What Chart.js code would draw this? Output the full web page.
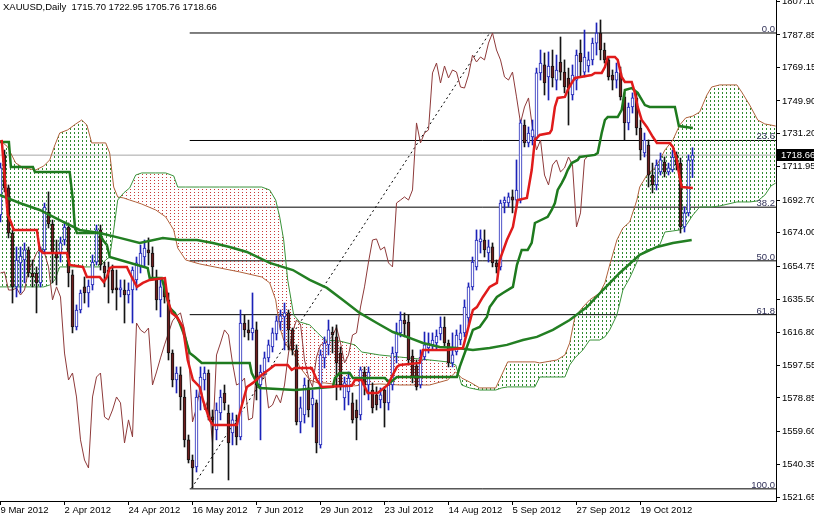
<!DOCTYPE html>
<html lang="en">
<head>
  <meta charset="UTF-8">
  <title>XAUUSD Daily</title>
  <style>
    body {
      margin: 0;
      background: #fff;
    }
    .wrap {
      position: relative;
      width: 814px;
      height: 518px;
    }
  </style>
</head>
<body>
  <div class="wrap"><canvas id="chart"></canvas></div>

  <script src="https://cdn.jsdelivr.net/npm/chart.js"></script>
  <script>
    // Axis labels
    const dateLabels = ['9 Mar 2012', '2 Apr 2012', '24 Apr 2012', '16 May 2012', '7 Jun 2012', '29 Jun 2012',
      '23 Jul 2012', '14 Aug 2012', '5 Sep 2012', '27 Sep 2012', '19 Oct 2012'];
    const dateTickBars = [0, 16, 32, 48, 64, 80, 96, 112, 128, 144, 160];
    const priceTicks = [1807.10, 1787.85, 1769.15, 1749.90, 1731.20, 1711.95, 1692.70, 1674.00, 1654.75,
      1635.50, 1616.80, 1597.55, 1578.85, 1559.60, 1540.35, 1521.65];

    // Daily candles, one per bar (bar 0 = 9 Mar 2012)
    const opens = [
      1684.2,1718.8,1699.8,1673.8,1642.8,1656.6,1658.3,1664.1,1650.8,1650.8,
      1645.1,1664.1,1685.9,1679.0,1662.9,1662.3,1669.8,1677.3,1649.7,1619.7,
      1629.5,1642.8,1639.3,1643.9,1657.1,1675.6,1654.8,1652.5,1652.5,1642.2,
      1641.0,1641.0,1638.1,1641.0,1646.8,1654.3,1660.0,1664.1,1662.3,1646.8,
      1635.3,1642.8,1635.3,1604.7,1589.2,1592.1,1579.4,1554.7,1543.1,1539.1,
      1579.4,1589.2,1593.2,1567.9,1560.4,1570.2,1581.7,1570.2,1558.7,1564.4,
      1556.4,1622.0,1618.0,1616.3,1618.0,1586.3,1593.8,1601.9,1608.2,1615.7,
      1622.6,1625.5,1627.8,1618.0,1606.5,1565.0,1569.0,1584.6,1574.8,1576.0,
      1551.8,1601.9,1609.4,1616.8,1614.0,1604.7,1578.8,1582.3,1576.0,1571.9,
      1569.0,1593.8,1586.3,1583.4,1580.6,1577.7,1583.4,1576.0,1586.3,1604.7,
      1616.3,1623.7,1622.6,1603.0,1597.3,1586.3,1602.4,1607.6,1609.4,1610.5,
      1615.7,1619.7,1610.5,1599.0,1605.3,1612.2,1616.3,1624.9,1642.8,1654.3,
      1668.7,1669.8,1662.3,1665.8,1656.6,1654.3,1691.1,1691.1,1694.6,1692.8,
      1692.8,1736.0,1725.7,1729.1,1728.5,1766.0,1770.6,1763.7,1770.0,1761.9,
      1772.3,1766.5,1763.1,1753.3,1761.9,1777.5,1766.5,1770.0,1773.5,1783.2,
      1789.0,1779.2,1773.5,1764.8,1761.9,1766.0,1752.2,1737.2,1746.4,1751.6,
      1734.3,1719.9,1724.5,1707.2,1701.5,1709.0,1714.7,1709.0,1710.1,1718.8,
      1714.1,1677.3,1685.4,1715.70
    ];
    const highs = [
      1714.1,1721.6,1701.5,1675.6,1665.8,1665.8,1668.1,1665.8,1658.3,1654.3,
      1665.8,1691.1,1697.5,1681.3,1669.8,1671.5,1680.2,1679.6,1652.5,1632.4,
      1641.0,1648.5,1646.8,1661.2,1678.4,1678.4,1657.1,1657.1,1655.4,1652.5,
      1646.8,1646.8,1645.1,1654.3,1660.0,1666.9,1669.8,1671.0,1665.8,1652.5,
      1646.8,1646.8,1639.3,1606.5,1596.7,1596.7,1583.4,1557.5,1546.0,1583.4,
      1596.7,1596.7,1595.0,1571.9,1576.0,1583.4,1586.3,1574.8,1570.2,1569.0,
      1629.5,1626.6,1623.7,1639.3,1622.6,1597.8,1605.3,1612.2,1619.1,1626.1,
      1629.5,1633.5,1629.5,1619.1,1609.4,1579.4,1590.3,1589.2,1583.4,1577.7,
      1606.5,1614.0,1623.7,1619.7,1620.9,1608.2,1590.9,1593.8,1581.7,1577.7,
      1596.7,1596.7,1596.7,1587.5,1585.2,1584.6,1585.2,1589.2,1608.2,1622.0,
      1628.4,1627.8,1626.6,1606.5,1600.7,1606.5,1616.8,1616.3,1616.3,1618.0,
      1625.5,1625.5,1612.2,1616.3,1618.0,1620.9,1635.3,1645.1,1660.0,1675.6,
      1675.6,1675.6,1669.8,1668.1,1658.3,1692.8,1694.6,1696.9,1698.6,1715.9,
      1738.9,1738.9,1734.9,1738.9,1768.8,1779.2,1777.5,1778.1,1779.2,1776.3,
      1786.7,1773.5,1768.8,1770.6,1779.2,1785.0,1790.7,1778.1,1786.1,1794.8,
      1796.5,1783.2,1775.2,1767.7,1771.7,1769.4,1754.5,1748.7,1754.5,1754.5,
      1738.9,1731.4,1727.4,1714.1,1715.9,1719.9,1717.6,1714.1,1721.6,1720.5,
      1717.0,1688.8,1718.8,1722.95
    ];
    const lows = [
      1680.2,1697.5,1671.0,1633.5,1637.0,1639.3,1645.1,1648.5,1642.8,1627.8,
      1642.8,1662.3,1676.7,1645.1,1643.9,1657.1,1666.9,1642.8,1616.3,1618.0,
      1627.8,1633.5,1631.2,1641.0,1655.4,1652.5,1642.8,1633.5,1639.3,1629.5,
      1637.0,1622.0,1633.5,1622.0,1641.0,1650.8,1654.3,1655.4,1646.8,1629.5,
      1625.5,1633.5,1600.7,1585.2,1581.7,1571.9,1550.6,1541.4,1527.0,1536.2,
      1571.9,1583.4,1566.2,1535.6,1554.7,1566.2,1571.9,1531.6,1551.8,1551.8,
      1554.7,1614.0,1612.2,1612.2,1577.7,1554.7,1592.1,1599.6,1605.3,1612.2,
      1618.0,1606.5,1606.5,1603.6,1563.3,1558.7,1564.4,1567.9,1562.1,1547.2,
      1550.0,1596.1,1603.6,1604.7,1577.7,1583.4,1571.9,1574.8,1564.4,1554.7,
      1566.2,1580.6,1577.7,1570.2,1571.9,1573.1,1562.1,1571.9,1583.4,1599.0,
      1614.0,1614.0,1597.8,1587.5,1583.4,1584.6,1600.7,1604.7,1606.5,1606.5,
      1612.2,1608.2,1596.7,1596.7,1603.6,1609.4,1614.0,1620.3,1641.0,1652.5,
      1662.3,1660.0,1657.1,1654.3,1650.8,1652.5,1685.4,1688.8,1685.4,1688.8,
      1691.1,1723.4,1723.4,1724.5,1727.4,1761.9,1753.3,1750.4,1757.9,1756.2,
      1761.9,1754.5,1736.0,1750.4,1756.2,1763.7,1763.7,1766.5,1770.6,1776.3,
      1773.5,1771.7,1761.9,1756.2,1757.3,1750.4,1727.4,1733.2,1742.9,1730.3,
      1715.9,1717.6,1700.3,1696.9,1698.6,1707.2,1706.1,1707.2,1709.0,1710.1,
      1673.8,1674.4,1683.6,1705.76
    ];
    const closes = [
      1711.3,1699.8,1673.8,1642.8,1658.3,1660.6,1664.1,1650.8,1648.5,1645.1,
      1664.1,1688.8,1679.0,1662.3,1659.4,1668.1,1677.3,1650.8,1619.7,1629.5,
      1639.3,1639.3,1643.3,1657.1,1675.6,1655.4,1650.8,1651.4,1641.0,1641.0,
      1642.2,1638.1,1641.0,1652.5,1656.6,1662.3,1665.2,1662.3,1654.3,1635.3,
      1642.8,1637.0,1604.7,1589.2,1593.2,1579.4,1554.7,1543.1,1538.5,1579.4,
      1590.9,1593.2,1567.9,1566.2,1571.9,1579.4,1576.0,1552.9,1566.2,1556.4,
      1622.0,1618.0,1616.3,1619.1,1586.3,1593.8,1601.9,1609.4,1616.3,1623.2,
      1626.1,1627.8,1618.0,1606.5,1565.0,1573.1,1586.3,1571.9,1578.8,1552.9,
      1603.6,1610.5,1618.0,1615.1,1599.0,1586.3,1587.5,1590.3,1566.2,1567.3,
      1595.0,1586.3,1593.8,1573.1,1574.8,1580.6,1576.0,1586.3,1604.7,1616.8,
      1623.7,1621.4,1600.7,1590.9,1585.2,1602.4,1609.4,1610.5,1612.2,1614.5,
      1619.7,1610.5,1599.0,1603.6,1615.1,1616.3,1631.2,1642.8,1657.1,1669.8,
      1670.4,1664.1,1665.8,1656.6,1654.3,1691.1,1692.8,1694.6,1692.8,1698.6,
      1737.2,1725.7,1731.4,1733.2,1766.0,1771.7,1760.2,1770.0,1763.1,1767.7,
      1766.5,1757.9,1757.3,1764.8,1776.3,1772.3,1775.2,1773.5,1783.2,1789.0,
      1779.2,1773.5,1763.7,1761.9,1766.5,1752.2,1737.2,1746.4,1751.6,1734.3,
      1721.6,1727.4,1707.2,1701.5,1713.0,1715.9,1709.0,1711.3,1717.6,1713.0,
      1677.3,1685.4,1715.9,1718.66
    ];

    // Indicator lines: [bar, price]
    const tenkan = [
      [0.3,1727.4],[1.1,1704.4],[1.8,1684.2],[2.6,1680.2],[3.3,1675.6],[9.1,1675.6],[9.8,1664.1],[10.6,1662.3],
      [16.6,1662.3],[17.3,1655.4],[20.6,1654.3],[21.6,1648.5],[24.8,1648.5],[25.8,1645.6],[26.6,1648.5],[27.3,1653.7],
      [28.1,1654.3],[31.6,1654.3],[32.3,1650.8],[34.1,1642.8],[35.6,1645.1],[37.3,1646.8],[41.1,1647.9],[41.8,1635.3],
      [42.8,1627.8],[44.1,1625.5],[45.6,1619.7],[46.8,1600.7],[48.1,1589.2],[49.8,1585.2],[50.6,1577.7],[52.3,1566.2],
      [53.1,1563.3],[59.1,1563.3],[59.8,1570.2],[61.6,1585.2],[63.1,1587.5],[65.3,1592.1],[68.6,1597.8],[71.8,1597.8],
      [72.8,1595.0],[73.6,1596.1],[77.8,1596.1],[79.1,1589.2],[80.3,1585.2],[87.8,1585.8],[88.6,1589.2],[90.3,1589.2],
      [91.8,1581.7],[94.3,1581.7],[96.8,1586.3],[99.1,1596.7],[99.8,1597.8],[104.8,1599.0],[105.6,1606.5],[111.6,1606.5],
      [115.6,1607.6],[116.6,1616.3],[118.1,1629.5],[119.1,1631.2],[120.6,1637.0],[122.3,1642.8],[124.1,1645.1],[124.8,1658.3],
      [126.6,1669.8],[128.1,1677.3],[129.3,1692.8],[131.6,1694.0],[132.8,1710.1],[133.6,1727.4],[134.8,1730.3],[137.3,1731.4],
      [137.8,1733.2],[138.6,1746.4],[139.3,1751.6],[141.1,1752.2],[141.8,1756.2],[142.8,1760.2],[143.6,1763.1],[147.8,1764.8],
      [148.6,1766.0],[150.3,1766.0],[151.1,1769.4],[151.8,1775.2],[153.6,1775.2],[154.3,1773.5],[155.3,1763.7],[156.1,1760.8],
      [157.8,1760.8],[158.6,1754.5],[159.3,1746.4],[160.3,1738.9],[161.6,1734.9],[163.1,1729.1],[164.1,1725.7],[167.3,1725.7],
      [168.1,1723.4],[169.1,1715.9],[169.6,1708.4],[170.3,1700.3],[173.1,1699.8]
    ];
    const kijun = [
      [-0.2,1726.2],[2.1,1726.2],[2.6,1711.8],[8.1,1711.8],[8.6,1709.0],[17.3,1709.0],[18.1,1692.8],[18.6,1677.3],
      [19.1,1673.8],[24.8,1673.8],[25.6,1669.8],[26.6,1666.9],[27.3,1660.0],[36.8,1653.7],[37.3,1647.9],[40.3,1647.9],
      [41.1,1641.0],[42.3,1630.7],[43.6,1627.8],[44.8,1622.0],[46.1,1614.0],[47.3,1604.7],[48.6,1602.4],[50.3,1599.0],
      [62.3,1599.0],[62.8,1593.2],[64.1,1587.5],[64.8,1584.6],[73.6,1583.4],[83.1,1585.2],[83.6,1590.3],[84.8,1593.2],
      [87.3,1593.2],[88.1,1590.3],[96.1,1590.3],[97.3,1587.5],[99.1,1590.9],[114.1,1590.9],[114.8,1596.7],[116.6,1608.2],
      [118.1,1618.0],[119.8,1619.7],[121.6,1625.5],[122.3,1631.2],[124.1,1637.0],[125.6,1639.3],[128.1,1642.8],[129.1,1655.4],
      [130.3,1664.1],[131.8,1664.1],[132.8,1668.1],[133.6,1679.6],[136.8,1683.1],[137.8,1687.1],[138.6,1691.1],[139.3,1698.6],
      [140.3,1702.6],[141.1,1706.1],[141.8,1710.1],[142.8,1714.1],[144.3,1715.9],[144.8,1717.6],[148.6,1718.8],[149.3,1719.9],
      [150.3,1731.4],[151.1,1738.9],[151.8,1740.6],[154.3,1740.6],[155.3,1744.7],[156.1,1756.2],[157.8,1757.3],[159.3,1754.5],
      [161.1,1747.5],[162.3,1746.4],[168.6,1746.4],[169.6,1735.4],[173.1,1734.3]
    ];
    const movingAvg = [
      [-0.2,1695.7],[4.8,1691.1],[9.8,1687.1],[14.8,1681.3],[19.8,1675.6],[24.8,1673.8],[29.8,1671.0],[34.8,1668.1],
      [40.6,1671.0],[44.8,1669.8],[49.1,1669.8],[53.1,1668.1],[57.3,1665.8],[61.6,1662.9],[67.3,1656.6],[73.1,1652.5],
      [77.3,1646.8],[81.6,1642.2],[85.6,1635.3],[89.8,1627.8],[94.1,1622.0],[98.1,1616.8],[101.6,1614.0],[105.6,1610.5],
      [109.8,1608.2],[114.1,1607.6],[118.1,1606.5],[122.3,1607.6],[126.6,1609.4],[130.6,1612.2],[134.1,1614.0],[138.1,1618.0],
      [142.3,1623.7],[146.6,1631.2],[150.6,1641.0],[154.8,1650.8],[159.8,1661.2],[164.1,1665.8],[168.1,1668.1],[172.8,1669.8]
    ];
    // Cloud: [bar, senkou A, senkou B]
    const cloud = [
      [-0.2,1727.4,1642.8],[1.8,1723.4,1642.8],[3.8,1714.1,1642.8],[5.8,1711.3,1642.8],[8.8,1710.1,1642.8],
      [10.8,1712.4,1642.8],[12.3,1715.9,1643.9],[13.6,1724.5,1646.8],[14.8,1731.4,1654.3],[16.8,1733.2,1654.3],
      [18.8,1736.6,1654.3],[20.3,1738.9,1654.3],[21.6,1736.0,1654.3],[22.8,1725.7,1654.3],[24.8,1725.7,1654.3],
      [26.3,1725.7,1658.3],[27.3,1719.9,1660.0],[28.3,1700.3,1675.6],[29.3,1694.6,1692.8],[30.8,1694.0,1696.9],
      [32.3,1692.8,1699.8],[33.8,1691.7,1707.2],[35.3,1690.5,1708.4],[38.8,1687.1,1708.4],[41.3,1683.1,1708.4],
      [43.3,1675.6,1706.7],[44.3,1665.2,1700.3],[46.3,1658.3,1700.3],[49.8,1656.0,1700.3],[54.8,1653.7,1700.3],
      [59.8,1651.4,1700.3],[65.3,1648.5,1700.3],[67.3,1645.1,1698.6],[68.8,1635.3,1692.8],[69.8,1619.7,1683.1],
      [70.8,1612.2,1669.8],[71.8,1608.2,1646.8],[73.3,1604.7,1626.6],[74.8,1596.7,1622.6],[77.3,1589.2,1620.9],
      [79.3,1587.5,1616.3],[81.1,1587.5,1612.2],[84.8,1586.3,1611.6],[88.6,1585.8,1609.4],[90.3,1586.3,1605.3],
      [94.8,1586.9,1603.6],[99.8,1586.3,1602.4],[107.3,1586.3,1600.7],[111.8,1589.2,1599.6],[113.8,1593.8,1597.8],
      [115.3,1590.3,1586.3],[117.3,1588.0,1584.6],[119.8,1584.6,1583.4],[123.8,1584.6,1583.4],[125.3,1592.1,1584.6],
      [126.8,1599.6,1585.2],[133.6,1599.6,1585.2],[134.8,1599.0,1590.9],[139.1,1600.7,1590.9],[141.1,1603.6,1590.9],
      [142.3,1610.5,1597.8],[143.6,1625.5,1601.9],[145.6,1631.2,1606.5],[147.3,1635.3,1612.2],[149.8,1639.3,1612.2],
      [151.1,1645.1,1614.0],[152.3,1655.4,1618.0],[154.1,1669.8,1626.6],[155.6,1676.7,1641.0],[157.3,1680.2,1647.9],
      [159.1,1692.8,1657.1],[159.8,1700.3,1661.2],[161.6,1707.2,1664.1],[163.6,1711.3,1665.2],[164.8,1715.9,1666.9],
      [166.1,1721.6,1674.4],[168.1,1727.4,1675.0],[169.8,1736.0,1675.6],[171.3,1740.1,1677.9],[173.1,1741.2,1684.2],
      [174.8,1743.5,1688.8],[176.6,1753.3,1688.8],[177.8,1757.9,1688.8],[179.8,1759.1,1689.4],[184.1,1759.1,1691.7],
      [185.3,1755.0,1691.7],[187.3,1747.5,1691.7],[189.3,1738.9,1692.3],[191.1,1736.6,1695.7],[192.6,1736.0,1700.9],
      [193.8,1735.4,1702.6]
    ];
    const chikouShift = 26;

    // Fibonacci retracement drawn from the May low
    const fibLevels = [1789.0, 1727.1, 1688.7, 1657.8, 1626.8, 1526.5];
    const fibNames = ['0.0', '23.6', '38.2', '50.0', '61.8', '100.0'];
    const fibStartBar = 47.3;
    const trendLine = [[47.8, 1527.0], [122.3, 1789.0]];

    const xMin = -0.125, xMax = 193.875;
    const fontFamily = '"Liberation Sans", Arial, sans-serif';

    const canvas = document.getElementById('chart');
    const ctx = canvas.getContext('2d');

    // MT4-style dotted hatch for the cloud
    function hatch(color, h, dash) {
      const c = document.createElement('canvas');
      c.width = 4;
      c.height = h;
      const g = c.getContext('2d');
      g.fillStyle = color;
      g.fillRect(2, 0, 1, dash);
      return ctx.createPattern(c, 'repeat');
    }

    const pts = arr => arr.map(p => ({ x: p[0], y: p[1] }));
    const last = opens.length - 1;
    const isUp = closes.map((c, i) => c >= opens[i]);

    const lineDefaults = { type: 'line', pointRadius: 0, tension: 0, fill: false };

    const datasets = [];

    fibLevels.forEach(v => {
      datasets.push({ ...lineDefaults, data: [{ x: fibStartBar, y: v }, { x: xMax, y: v }],
        borderColor: '#000', borderWidth: 1, order: 20 });
    });
    datasets.push({ ...lineDefaults, data: pts(trendLine), borderColor: '#000', borderWidth: 1,
      borderDash: [2, 3], order: 19 });
    datasets.push({ ...lineDefaults, data: [{ x: xMin, y: closes[last] }, { x: xMax, y: closes[last] }],
      borderColor: '#a6a6a6', borderWidth: 1, order: 18 });

    // Senkou A fills to Senkou B: green where A is above, red where B is above
    datasets.push({ ...lineDefaults, data: cloud.map(c => ({ x: c[0], y: c[1] })),
      borderColor: '#b0623c', borderWidth: 1, order: 12,
      fill: { target: '+1', above: hatch('#2f8a2f', 4, 2), below: hatch('#c83a3a', 3, 1) } });
    datasets.push({ ...lineDefaults, data: cloud.map(c => ({ x: c[0], y: c[2] })),
      borderColor: '#3a933a', borderWidth: 1, order: 11 });

    // Chikou: close plotted 26 bars back
    datasets.push({ ...lineDefaults,
      data: closes.slice(chikouShift).map((c, k) => ({ x: k, y: c })),
      borderColor: '#8e3a3a', borderWidth: 1, order: 7 });

    // Candles
    datasets.push({ type: 'bar', grouped: false, barThickness: 1, order: 6,
      data: opens.map((o, i) => ({ x: i, y: [lows[i], highs[i]] })),
      backgroundColor: isUp.map(u => u ? '#1c22b8' : '#141414'), borderWidth: 0 });
    datasets.push({ type: 'bar', grouped: false, barThickness: 3, order: 5,
      data: opens.map((o, i) => ({ x: i, y: [o, closes[i]] })),
      backgroundColor: isUp.map(u => u ? '#ffffff' : '#6e1f1f'),
      borderColor: isUp.map(u => u ? '#1c22b8' : '#141414'),
      borderWidth: 1, borderSkipped: false });

    datasets.push({ ...lineDefaults, data: pts(movingAvg), borderColor: '#237f23', borderWidth: 2.5, order: 4 });
    datasets.push({ ...lineDefaults, data: pts(kijun), borderColor: '#1e7a1e', borderWidth: 2.5, order: 3 });
    datasets.push({ ...lineDefaults, data: pts(tenkan), borderColor: '#e01b1b', borderWidth: 2.5, order: 2 });

    const overlay = {
      id: 'overlay',
      afterDatasetsDraw(chart) {
        const { ctx, chartArea, scales } = chart;
        ctx.save();
        ctx.font = '9.5px ' + fontFamily;
        ctx.fillStyle = '#33335a';
        ctx.textAlign = 'right';
        ctx.textBaseline = 'bottom';
        fibLevels.forEach((v, k) => {
          ctx.fillText(fibNames[k], chartArea.right - 1, Math.round(scales.y.getPixelForValue(v)) + 1);
        });
        ctx.restore();
      },
      afterDraw(chart) {
        const { ctx, chartArea, scales, width } = chart;
        ctx.save();
        ctx.font = '9.5px ' + fontFamily;
        ctx.fillStyle = '#000';
        ctx.textAlign = 'left';
        ctx.textBaseline = 'top';
        const ohlc = [opens[last], highs[last], lows[last], closes[last]].map(v => v.toFixed(2)).join(' ');
        ctx.fillText('XAUUSD,Daily  ' + ohlc, 3, 3);

        const by = Math.round(scales.y.getPixelForValue(closes[last]));
        ctx.fillRect(chartArea.right + 1, by - 6, width - chartArea.right - 1, 12);
        ctx.fillStyle = '#fff';
        ctx.textBaseline = 'middle';
        ctx.fillText(closes[last].toFixed(2), chartArea.right + 5, by);
        ctx.restore();
      }
    };

    new Chart(ctx, {
      type: 'bar',
      data: { datasets },
      plugins: [overlay],
      options: {
        responsive: true,
        maintainAspectRatio: false,
        animation: false,
        events: [],
        layout: { padding: 0 },
        plugins: {
          legend: { display: false },
          tooltip: { enabled: false }
        },
        scales: {
          x: {
            type: 'linear',
            min: xMin,
            max: xMax,
            offset: false,
            grid: { offset: false, drawOnChartArea: false, drawTicks: true, tickLength: 4, color: '#000' },
            border: { display: true, color: '#000', width: 1 },
            ticks: {
              autoSkip: false, maxRotation: 0, minRotation: 0, align: 'start', padding: 0,
              color: '#000', font: { family: fontFamily, size: 9.5 },
              callback: (v, i) => dateLabels[i]
            },
            afterBuildTicks: s => { s.ticks = dateTickBars.map(v => ({ value: v })); },
            afterFit: s => { s.height = 17; s.paddingLeft = 0; s.paddingRight = 0; }
          },
          y: {
            position: 'right',
            min: 1519.5,
            max: 1808.0,
            grid: { drawOnChartArea: false, drawTicks: true, tickLength: 4, color: '#000' },
            border: { display: true, color: '#000', width: 1 },
            ticks: {
              autoSkip: false, padding: 2, color: '#000',
              font: { family: fontFamily, size: 9.5 },
              callback: v => v.toFixed(2)
            },
            afterBuildTicks: s => { s.ticks = priceTicks.map(v => ({ value: v })); },
            afterFit: s => { s.width = 38; s.paddingTop = 0; s.paddingBottom = 0; }
          }
        }
      }
    });
  </script>
</body>
</html>
